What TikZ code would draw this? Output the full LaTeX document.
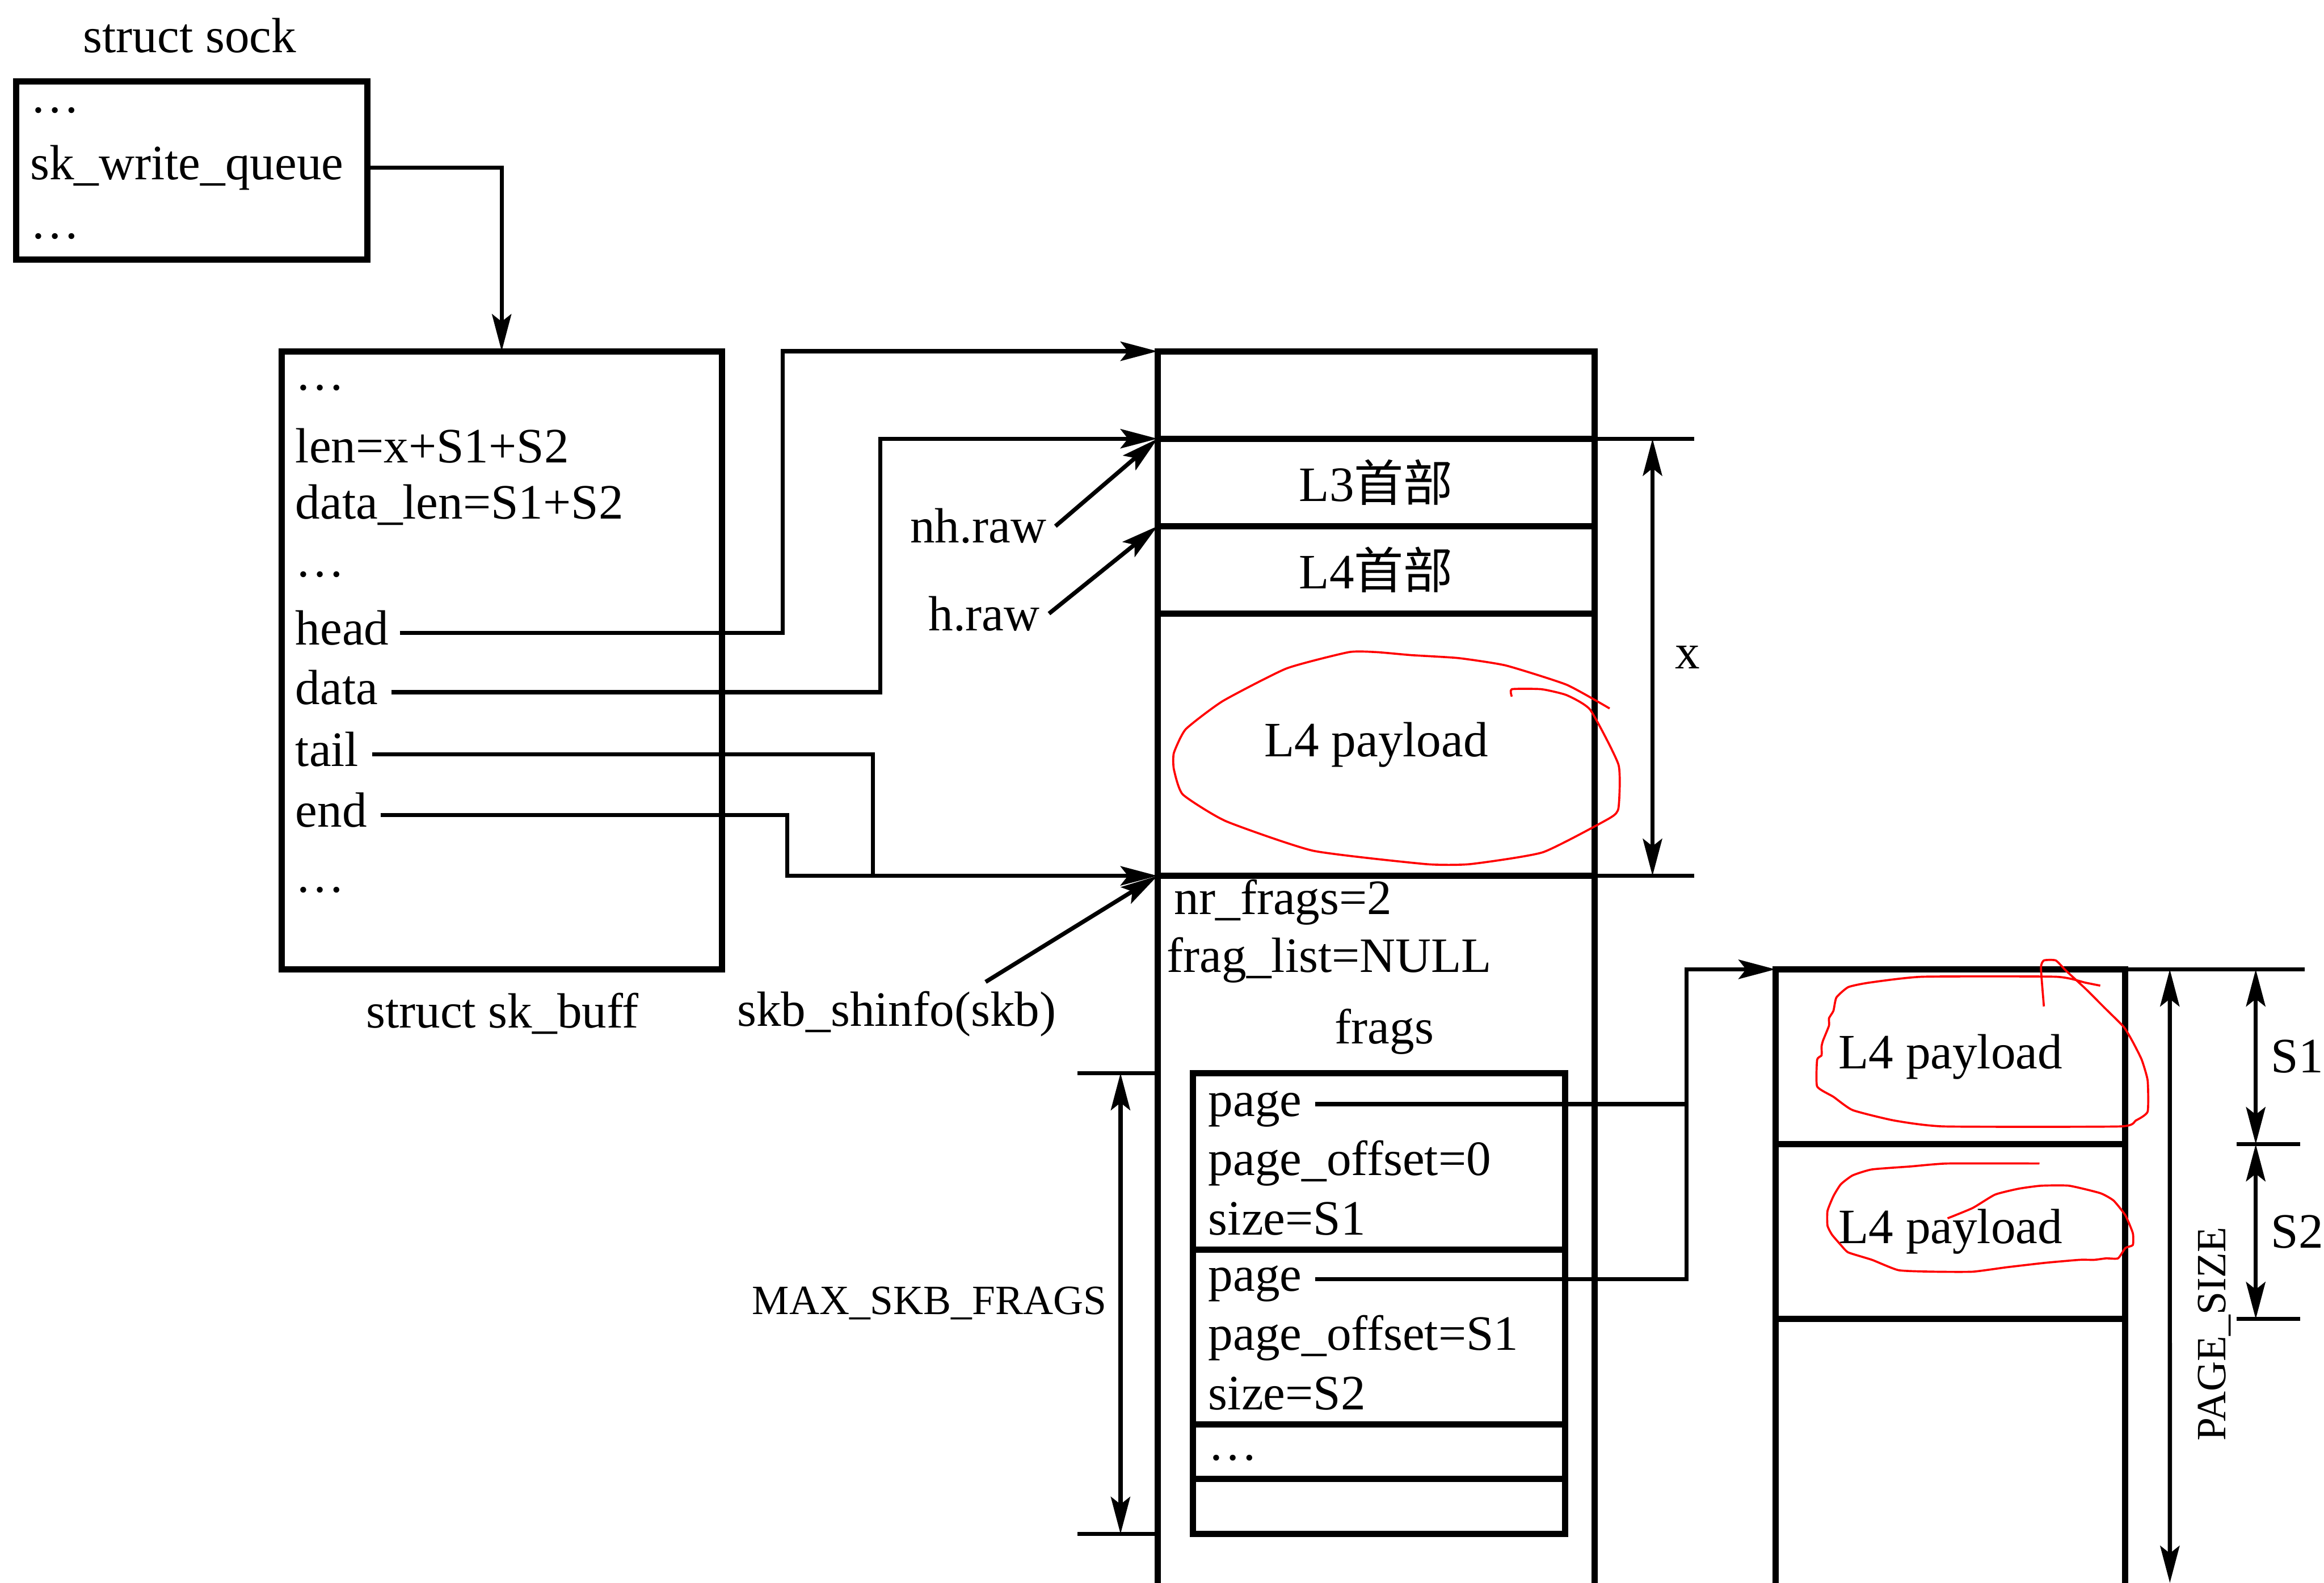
\documentclass[tikz,border=0pt]{standalone}
\usepackage{fontspec}
\setmainfont{Liberation Serif}
\newfontfamily\cjk{Noto Sans CJK SC}
\usepackage{tikz}
\usetikzlibrary{arrows.meta, positioning}

\begin{document}
\begin{tikzpicture}[
    x=0.02cm, y=-0.02cm,
    font=\fontsize{19}{23}\selectfont,
    box/.style={rectangle, draw, line width=2.4pt, outer sep=0pt, inner sep=0pt},
    cell/.style={box, minimum width=5.9cm},
    fcell/.style={box, minimum width=5.02cm},
    pcell/.style={box, minimum width=4.72cm},
    field/.style={anchor=west, inner sep=0pt, text height=1em, text depth=0.08em},
    capslbl/.style={inner sep=0pt, font=\fontsize{16}{19}\selectfont},
    link/.style={line width=1.6pt},
    arrow/.style={link, -{Stealth[length=5mm, width=2.6mm, inset=1mm]}},
    dim/.style={link, {Stealth[length=5mm, width=2.6mm, inset=1mm]}-{Stealth[length=5mm, width=2.6mm, inset=1mm]}},
    hand/.style={red, line width=0.8pt, line join=round}
]
\useasboundingbox (0,0) rectangle (1568,1068);

% struct sock
\node (socktitle) at (128,24) {struct sock};
\node[box, minimum width=4.74cm, minimum height=2.4cm, anchor=north west] (sock) at (11,55) {};
\node[field] (sockd1) at (20,68) {\dots};
\node[field] (wq) at (20,113) {sk\_write\_queue};
\node[field] (sockd2) at (20,153) {\dots};

% struct sk_buff
\node[box, minimum width=5.94cm, minimum height=8.34cm, anchor=north west] (skb) at (190,237) {};
\node[field] (skbd1) at (199,255) {\dots};
\node[field] (len) at (199,304) {len=x+S1+S2};
\node[field] (dlen) at (199,342) {data\_len=S1+S2};
\node[field] (skbd2) at (199,381) {\dots};
\node[field] (head) at (199,427) {head};
\node[field] (data) at (199,467) {data};
\node[field] (tail) at (199,509) {tail};
\node[field] (end) at (199,550) {end};
\node[field] (skbd3) at (199,594) {\dots};
\node (skbtitle) at (339,684) {struct sk\_buff};

% data buffer
\node[cell, minimum height=1.18cm, anchor=north west] (headroom) at (781,237) {};
\node[cell, minimum height=1.18cm, below=0pt of headroom] (l3) {L3{\cjk 首部}};
\node[cell, minimum height=1.18cm, below=0pt of l3] (l4) {L4{\cjk 首部}};
\node[cell, minimum height=3.54cm, below=0pt of l4] (payload) {L4 payload};
\node[cell, minimum height=9.64cm, below=0pt of payload] (shinfo) {};
\node (nhraw) at (660,355) {nh.raw};
\node (hraw) at (664,414) {h.raw};
\node (shlbl) at (605,684) {skb\_shinfo(skb)};

% skb_shared_info
\node[field] (nrfrags) at (792,609) {nr\_frags=2};
\node[field] (fraglist) at (787,648) {frag\_list=NULL};
\node (frags) at (934,696) {frags};
\node[fcell, minimum height=2.38cm, anchor=north west] (frag1) at (805,724) {};
\node[fcell, minimum height=2.36cm, below=0pt of frag1] (frag2) {};
\node[fcell, minimum height=0.74cm, below=0pt of frag2] (fragdots) {};
\node[fcell, minimum height=0.74cm, below=0pt of fragdots] (fraglast) {};
\node[field] (page1) at (815,745) {page};
\node[field] (off1) at (815,785) {page\_offset=0};
\node[field] (size1) at (815,825) {size=S1};
\node[field] (page2) at (815,863) {page};
\node[field] (off2) at (815,903) {page\_offset=S1};
\node[field] (size2) at (815,943) {size=S2};
\node[field] (fragd) at (815,977) {\dots};

% page
\node[pcell, minimum height=2.36cm, anchor=north west] (pg1) at (1198,654) {L4 payload};
\node[pcell, minimum height=2.36cm, below=0pt of pg1] (pg2) {L4 payload};
\node[pcell, minimum height=3.64cm, below=0pt of pg2] (pg3) {};
\node[capslbl, rotate=90] (pagesize) at (1494,900) {PAGE\_SIZE};
\coordinate (pgend) at (1464,1068);

% Arrows
\draw[arrow] (wq.east -| sock.east) -| (skb.north);
\draw[arrow] ([xshift=4pt]head.east) -| ([xshift=-5.06cm]headroom.north west) -- (headroom.north west);
\draw[arrow] ([xshift=5pt]data.east) -| ([xshift=-3.74cm]l3.north west) -- (l3.north west);
\draw[link] ([xshift=5pt]tail.east) -| ([xshift=-3.84cm]shinfo.north west);
\draw[arrow] ([xshift=5pt]end.east) -| ([xshift=-5cm]shinfo.north west) -- (shinfo.north west);
\draw[arrow] (nhraw.east) -- (l3.north west);
\draw[arrow] (hraw.east) -- (l4.north west);
\draw[arrow] ([xshift=1.2cm]shlbl.north) -- (shinfo.north west);
\draw[arrow] ([xshift=5pt]page1.east) -| ([xshift=-1.2cm]pg1.north west) -- (pg1.north west);
\draw[link] ([xshift=5pt]page2.east) -| ([xshift=-1.2cm]pg1.north west);

% dimensions
\draw[link] (l3.north east) -- ++(67,0);
\draw[link] (payload.south east) -- ++(67,0);
\draw[dim] ([xshift=0.78cm]l3.north east) -- node[right=0.28cm, inner sep=0pt] (xlbl) {x} ([xshift=0.78cm]payload.south east);
\coordinate (mtop) at (frag1.north west -| shinfo.west);
\coordinate (mbot) at (fraglast.south west -| shinfo.west);
\draw[link] (mtop) -- ++(-54,0);
\draw[link] (mbot) -- ++(-54,0);
\draw[dim] ([xshift=-0.5cm]mtop) -- node[capslbl, left=0.16cm] (maxlbl) {MAX\_SKB\_FRAGS} ([xshift=-0.5cm]mbot);
\draw[link] (pg1.north east) -- ++(121,0);
\draw[link] ([xshift=1.5cm]pg1.south east) -- ++(43,0);
\draw[link] ([xshift=1.5cm]pg2.south east) -- ++(43,0);
\draw[dim] ([xshift=0.6cm]pg1.north east) -- (pgend);
\draw[dim] ([xshift=1.76cm]pg1.north east) -- node[right=0.18cm, inner sep=0pt] (s1lbl) {S1} ([xshift=1.76cm]pg1.south east);
\draw[dim] ([xshift=1.76cm]pg2.north east) -- node[right=0.18cm, inner sep=0pt] (s2lbl) {S2} ([xshift=1.76cm]pg2.south east);

% hand-drawn marks
\draw[hand] plot[smooth, tension=0.3] coordinates {(1020,470) (1020,465) (1040,465) (1057,469) (1073,479) (1092,516) (1092,545) (1086,552) (1041,575) (992,583) (962,583) (886,574) (827,554) (798,536) (792,519) (792,508) (800,492) (825,473) (868,451) (910,440) (929,440) (952,442) (984,444) (1016,449) (1057,462) (1086,478)};
\draw[hand] plot[smooth, tension=0.3] coordinates {(1417,665) (1407,663) (1387,659) (1297,659) (1261,663) (1247,666) (1239,673) (1237,682) (1234,687) (1234,692) (1230,702) (1229,706) (1229,712) (1226,715) (1226,733) (1237,740) (1250,749) (1278,756) (1312,760) (1430,760) (1441,756) (1449,750) (1449,729) (1445,715) (1439,703) (1433,693) (1420,680) (1407,667) (1394,655) (1387,648) (1379,648) (1377,653) (1379,679)};
\draw[hand] plot[smooth, tension=0.3] coordinates {(1376,785) (1314,785) (1289,787) (1263,789) (1250,793) (1242,799) (1237,807) (1233,817) (1233,827) (1236,833) (1242,840) (1247,845) (1263,850) (1281,857) (1305,858) (1331,858) (1354,855) (1380,852) (1403,850) (1413,850) (1421,849) (1429,849) (1434,842) (1439,840) (1439,832) (1434,820) (1426,810) (1417,805) (1396,800) (1377,800) (1362,802) (1346,806) (1331,815) (1314,822)};

\end{tikzpicture}
\end{document}
